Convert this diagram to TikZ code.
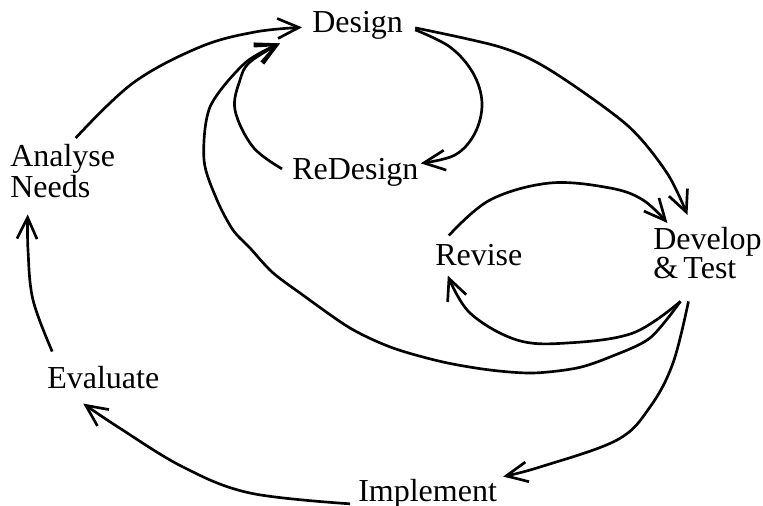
\documentclass[tikz,border=0pt]{standalone}
\usepackage{fontspec}
\setmainfont{Liberation Serif}
\usetikzlibrary{arrows.meta}
\begin{document}
\begin{tikzpicture}[x=0.75pt,y=-0.75pt,
  lbl/.style={inner sep=0pt,font=\fontsize{24}{22}\selectfont,anchor=base west},
  conn/.style={line width=2pt,-{Straight Barb[length=16pt,width=15pt,line width=2pt]}}]
\useasboundingbox (0,0) rectangle (763,506);
\node[lbl] (design) at (312,33) {Design};
\node[lbl] (redesign) at (292,180) {ReDesign};
\node[lbl,align=left,anchor=north west,font=\fontsize{24}{23.5}\selectfont] (analyse) at (10,144) {Analyse\\Needs};
\node[lbl] (revise) at (435,265) {Revise};
\node[lbl,align=left,anchor=north west] (develop) at (653,227) {Develop\\\&\,Test};
\node[lbl] (evaluate) at (47,388) {Evaluate};
\node[lbl] (implement) at (358,501) {Implement};
% Analyse -> Design
\draw[conn] plot[smooth,tension=0.6] coordinates {([shift={(13,-6)}]analyse.north) (133,83) (200,47) (255,32) ([shift={(-10,1.5)}]design.west)};
% ReDesign -> Design (inner)
\draw[conn] plot[smooth,tension=0.6] coordinates {([shift={(-10,-4)}]redesign.west) (253,147) (235,110) (240,80) (250,62) ([shift={(-32,17.5)}]design.west)};
% Develop -> Design (long)
\draw[conn] plot[smooth,tension=0.5] coordinates {([shift={(-27,22)}]develop.south) (650,338) (610,357) (577,368) (533,373) (490,370) (443,362) (393,348) (350,328) (300,293) (272,272) (250,248) (233,230) (217,200) (204,160) (210,107) (245,63) ([shift={(-32,17.5)}]design.west)};
% Design -> ReDesign
\draw[conn] plot[smooth,tension=0.6] coordinates {([shift={(12,4)}]design.east) (450,47) (473,73) (482,103) (475,133) (455,155) ([shift={(2,-9.5)}]redesign.east)};
% Design -> Develop
\draw[conn] plot[smooth,tension=0.5] coordinates {([shift={(12,2)}]design.east) (500,47) (550,70) (627,125) (667,173) ([shift={(-20,-12)}]develop.north)};
% Revise -> Develop
\draw[conn] plot[smooth,tension=0.6] coordinates {([shift={(-30,-8)}]revise.north) (490,200) (550,183) (610,188) (643,200) ([shift={(-40,-4)}]develop.north)};
% Develop -> Revise
\draw[conn] plot[smooth,tension=0.6] coordinates {([shift={(-27,22)}]develop.south) (633,333) (567,343) (517,340) (470,313) ([shift={(-31,10)}]revise.south)};
% Develop -> Implement
\draw[conn] plot[smooth,tension=0.6] coordinates {([shift={(-19,22)}]develop.south) (673,363) (650,407) (617,440) (540,467) ([shift={(6,-2)}]implement.north east)};
% Implement -> Evaluate
\draw[conn] plot[smooth,tension=0.6] coordinates {([shift={(-8,10.5)}]implement.west) (250,493) (183,467) (118,427) ([shift={(-20,15)}]evaluate.south)};
% Evaluate -> Analyse
\draw[conn] plot[smooth,tension=0.6] coordinates {([shift={(-51,-14)}]evaluate.north) (33,300) (28,250) ([shift={(-35,16)}]analyse.south)};
\end{tikzpicture}
\end{document}
